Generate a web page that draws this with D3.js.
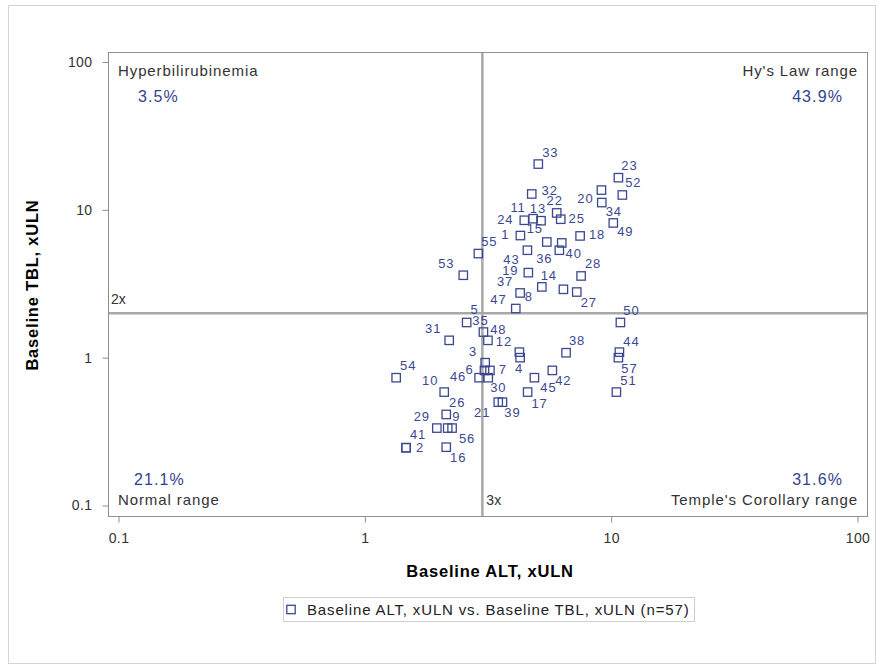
<!DOCTYPE html>
<html><head><meta charset="utf-8">
<script src="https://cdn.jsdelivr.net/npm/d3@7/dist/d3.min.js"></script>
<style>
body{margin:0;background:#fff}
svg{display:block}
text{font-family:"Liberation Sans",Arial,Helvetica,sans-serif}
</style>
</head><body>
<svg id="chart" width="878" height="665"></svg>
<script>
// ---------------- data ----------------
const subjectIds = d3.range(1, 58);
const altValues = [4.28,1.47,3.08,4.27,2.59,3.06,3.22,4.10,2.17,2.10,
                   4.82,3.16,5.19,5.23,5.48,2.14,4.58,7.48,4.61,9.13,
                   3.48,6.01,10.7,4.44,6.24,2.14,7.25,7.55,1.96,3.17,
                   2.20,4.76,5.06,9.16,3.03,6.16,4.27,6.56,3.62,6.30,
                   1.47,5.77,4.57,10.8,4.88,2.91,6.40,4.24,10.2,10.9,
                   10.5,11.1,2.51,1.34,2.89,2.26,10.7];
const tblValues = [6.70,0.246,0.925,1.00,1.73,0.820,0.820,2.15,0.334,0.585,
                   8.71,1.31,8.44,3.01,6.06,0.248,0.585,6.66,3.76,13.6,
                   0.500,9.53,16.5,8.50,8.64,0.413,2.78,3.57,0.334,0.732,
                   1.31,12.8,20.4,11.2,1.49,5.33,2.74,1.08,0.500,5.97,
                   0.246,0.820,5.33,1.09,0.732,0.732,2.90,1.09,8.15,1.73,
                   0.585,12.6,3.61,0.732,5.06,0.334,1.00];
const xTickValues = [0.1, 1, 10, 100];
const xTickLabels = ["0.1", "1", "10", "100"];
const yTickValues = [0.1, 1, 10, 100];
const yTickLabels = ["0.1", "1", "10", "100"];
const altCutoff = 3, tblCutoff = 2;
const cutoffLabels = ["3x", "2x"];
const quadrantNames = ["Hyperbilirubinemia", "Hy's Law range", "Normal range", "Temple's Corollary range"];
const xTitle = "Baseline ALT, xULN";
const yTitle = "Baseline TBL, xULN";

// label placement (style only: pixel offsets of each data label from its marker)
const labelDx = [-15,14,-12,-1,8,-15,13,13,8.5,-14,
                 -15,16,-3,7,-12,12,12,17,-18,-16,
                 -16,-2,11,-19,16,11,12,12,-15,10,
                 -16,18,12,12,-3,-15,-15,11,10,12,
                 12,11,-16,12,14,-21,-65,-21,12,11,
                 12,11,-17,12,11,15,11];
const labelDy = [-1,0,-11,11,-13,-1,-1,-12,-12,-12,
                 -11,1,-12,-11,-13,10,11,-1,-2,8,
                 10,-12,-12,-1,-1,-12,10,-12,-12,10,
                 -12,-3,-12,9,-12,8,-11,-12,10,11,
                 -13,10,9,-11,10,-1,10,-23,9,-12,
                 -12,-12,-12,-12,-12,10,11];

// ---------------- layout ----------------
const frame = {left: 108, top: 52, right: 867, bottom: 516};
const markColor = "#3b4891";
const pctColor = "#363f8f";

const svg = d3.select("#chart");
svg.append("rect").attr("x", 8.5).attr("y", 5.5).attr("width", 867).attr("height", 658)
  .attr("fill", "#fff").attr("stroke", "#d4d4d4");

const x = d3.scaleLog().domain([0.1, 100]).range([118.5, 857.5]);
const y = d3.scaleLog().domain([0.1, 100]).range([505.5, 62]);

// frame
svg.append("rect").attr("x", frame.left + 0.5).attr("y", frame.top + 0.5)
  .attr("width", frame.right - frame.left).attr("height", frame.bottom - frame.top)
  .attr("fill", "none").attr("stroke", "#8f8f8f");

// axes
const yAxis = d3.axisLeft(y).tickValues(yTickValues)
  .tickFormat((d, i) => yTickLabels[i]).tickSize(6).tickPadding(10);
const gy = svg.append("g").attr("transform", `translate(${frame.left + 0.5},0)`).call(yAxis);
const xAxis = d3.axisBottom(x).tickValues(xTickValues)
  .tickFormat((d, i) => xTickLabels[i]).tickSize(6).tickPadding(11);
const gx = svg.append("g").attr("transform", `translate(0,${frame.bottom + 0.5})`).call(xAxis);
[gx, gy].forEach(g => {
  g.select(".domain").remove();
  g.selectAll(".tick line").attr("stroke", "#8f8f8f");
  g.selectAll(".tick text").attr("fill", "#333").style("font-size", "14px")
    .style("letter-spacing", "0.4px").style("font-family", '"Liberation Sans",Arial,sans-serif');
});

// reference lines
svg.append("line").attr("x1", x(altCutoff)).attr("x2", x(altCutoff))
  .attr("y1", frame.top + 1).attr("y2", frame.bottom)
  .attr("stroke", "#a8a8a8").attr("stroke-width", 2.5);
svg.append("line").attr("x1", frame.left + 1).attr("x2", frame.right)
  .attr("y1", y(tblCutoff)).attr("y2", y(tblCutoff))
  .attr("stroke", "#a8a8a8").attr("stroke-width", 2.5);
svg.append("text").attr("x", frame.left + 3).attr("y", y(tblCutoff) - 14)
  .attr("dominant-baseline", "central").style("font-size", "14px").attr("fill", "#333")
  .text(cutoffLabels[1]);
svg.append("text").attr("x", x(altCutoff) + 4).attr("y", frame.bottom - 16)
  .attr("dominant-baseline", "central").style("font-size", "14px").attr("fill", "#333")
  .text(cutoffLabels[0]);

// quadrant percentages from data
const n = subjectIds.length;
const pts = subjectIds.map((id, i) => ({id, alt: altValues[i], tbl: tblValues[i], dx: labelDx[i], dy: labelDy[i]}));
const cnt = (f) => pts.filter(f).length;
const pct = (c) => (100 * c / n).toFixed(1) + "%";
const qUL = pct(cnt(p => p.alt <= altCutoff && p.tbl > tblCutoff));
const qUR = pct(cnt(p => p.alt > altCutoff && p.tbl > tblCutoff));
const qLL = pct(cnt(p => p.alt <= altCutoff && p.tbl <= tblCutoff));
const qLR = pct(cnt(p => p.alt > altCutoff && p.tbl <= tblCutoff));

function corner(txt, xx, yy, anchor, size, color, ls) {
  svg.append("text").attr("x", xx).attr("y", yy).attr("text-anchor", anchor)
    .attr("dominant-baseline", "central").style("font-size", size + "px")
    .style("letter-spacing", ls + "px").attr("fill", color).text(txt);
}
corner(quadrantNames[0], 118, 70, "start", 15, "#333", 0.9);
corner(qUL, 138, 96, "start", 16, pctColor, 1.1);
corner(quadrantNames[1], 858, 70, "end", 15, "#333", 0.9);
corner(qUR, 843, 96, "end", 16, pctColor, 1.1);
corner(qLL, 134, 479, "start", 16, pctColor, 1.1);
corner(quadrantNames[2], 118, 499, "start", 15, "#333", 0.9);
corner(qLR, 843, 479, "end", 16, pctColor, 1.1);
corner(quadrantNames[3], 858, 499, "end", 15, "#333", 0.9);

// markers
const side = 8.4;
svg.append("g").selectAll("rect").data(pts).join("rect")
  .attr("x", d => x(d.alt) - side / 2).attr("y", d => y(d.tbl) - side / 2)
  .attr("width", side).attr("height", side)
  .attr("fill", "none").attr("stroke", markColor).attr("stroke-width", 1.3);

// data labels
svg.append("g").selectAll("text").data(pts).join("text")
  .attr("x", d => x(d.alt) + d.dx).attr("y", d => y(d.tbl) + d.dy)
  .attr("text-anchor", "middle").attr("dominant-baseline", "central")
  .style("font-size", "13px").style("letter-spacing", "0.9px")
  .attr("fill", markColor).text(d => d.id);

// axis titles
svg.append("text").attr("x", 490).attr("y", 571).attr("text-anchor", "middle")
  .attr("dominant-baseline", "central").style("font-size", "16.5px").style("font-weight", "bold")
  .style("letter-spacing", "0.8px").attr("fill", "#000").text(xTitle);
svg.append("text").attr("transform", "translate(32,285) rotate(-90)").attr("text-anchor", "middle")
  .attr("dominant-baseline", "central").style("font-size", "16.5px").style("font-weight", "bold")
  .style("letter-spacing", "0.8px").attr("fill", "#000").text(yTitle);

// legend
svg.append("rect").attr("x", 283.5).attr("y", 597.5).attr("width", 411).attr("height", 24)
  .attr("fill", "#fff").attr("stroke", "#cfcfcf");
svg.append("rect").attr("x", 291 - side / 2).attr("y", 609.5 - side / 2)
  .attr("width", side).attr("height", side)
  .attr("fill", "none").attr("stroke", markColor).attr("stroke-width", 1.3);
svg.append("text").attr("x", 307).attr("y", 609.5).attr("dominant-baseline", "central")
  .style("font-size", "15px").style("letter-spacing", "0.85px").attr("fill", "#222")
  .text(`${xTitle} vs. ${yTitle} (n=${n})`);
</script>
</body></html>
